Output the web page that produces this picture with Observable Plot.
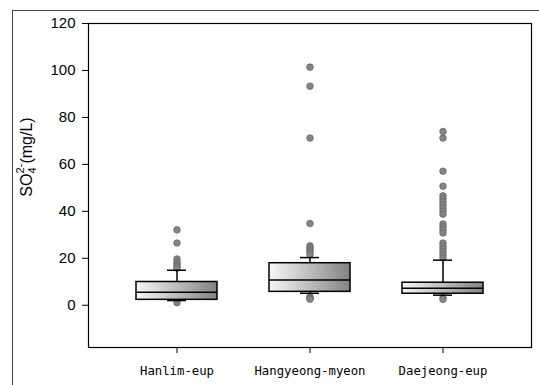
<!DOCTYPE html>
<html>
<head>
<meta charset="utf-8">
<script src="https://cdn.jsdelivr.net/npm/d3@7"></script>
<script src="https://cdn.jsdelivr.net/npm/@observablehq/plot@0.6"></script>
<style>
  body { margin: 0; background: #fff; }
  #wrap { position: relative; width: 539px; height: 385px; overflow: hidden; }
  #outer { position: absolute; left: 12px; top: 10px; width: 600px; height: 500px; border: 1px solid #444; box-sizing: border-box; }
  #wrap svg { position: absolute; left: 0; top: 0; }
</style>
</head>
<body>
<div id="wrap"><div id="outer"></div></div>
<script>
// Sulfate concentrations by sampling area: box statistics and outliers (mg/L)
const sites = ["Hanlim-eup", "Hangyeong-myeon", "Daejeong-eup"];
const q1 = [2.3, 5.7, 4.9];
const median = [5.5, 10.7, 7.2];
const q3 = [9.9, 17.9, 9.6];
const whiskerLow = [2.0, 5.1, 4.3];
const whiskerHigh = [14.9, 20.3, 19.2];

const outliersHanlim = [32.1, 26.5, 19.7, 18.4, 17.5, 16.6, 15.8, 1.1];
const outliersHangyeong = [101.4, 93.3, 71.2, 34.8, 25.3, 24.4, 23.5, 22.6, 21.5, 3.6, 3.0, 2.6];
const outliersDaejeong = [74.0, 71.2, 57.1, 50.7, 46.6, 45.3, 44.0, 42.7, 41.4, 40.1, 38.8,
  34.6, 33.4, 32.2, 30.8, 26.5, 25.2, 24.0, 22.7, 21.4, 20.2, 3.2, 2.5];

const yTicks = [0, 20, 40, 60, 80, 100, 120];

const outliers = [
  ...outliersHanlim.map(v => ({site: sites[0], value: v})),
  ...outliersHangyeong.map(v => ({site: sites[1], value: v})),
  ...outliersDaejeong.map(v => ({site: sites[2], value: v}))
];

// horizontal white-to-grey shading used inside each box
const gradientDefs = () => {
  const defs = d3.create("svg:defs");
  const g = defs.append("linearGradient").attr("id", "boxShade")
    .attr("x1", "0").attr("x2", "1").attr("y1", "0").attr("y2", "0");
  g.append("stop").attr("offset", "0%").attr("stop-color", "#f7f7f7");
  g.append("stop").attr("offset", "100%").attr("stop-color", "#828282");
  return defs.node();
};

const chart = Plot.plot({
  width: 539,
  height: 385,
  marginLeft: 88,
  marginRight: 8,
  marginTop: 23,
  marginBottom: 38,
  style: { background: "transparent", color: "#000" },
  x: { domain: sites, paddingInner: 0.388, paddingOuter: 0.347, label: null },
  y: { domain: [-18, 120], label: null },
  marks: [
    gradientDefs,
    Plot.frame({ stroke: "#000", strokeWidth: 1.2 }),
    Plot.axisY({ ticks: yTicks, tickSize: 6, tickPadding: 7, fontSize: 15,
                 fontFamily: "Liberation Sans, Arial, sans-serif", label: null, stroke: "#000" }),
    Plot.axisX({ tickSize: 6, tickPadding: 13, fontSize: 12.3,
                 fontFamily: "DejaVu Sans Mono, monospace", label: null, stroke: "#000" }),
    Plot.dot(outliers, { x: "site", y: "value", r: 3.3, fill: "#858585", stroke: "#5e5e5e", strokeWidth: 0.7 }),
    Plot.ruleX(sites, { x: d => d, y1: (d, i) => q3[i], y2: (d, i) => whiskerHigh[i], stroke: "#000", strokeWidth: 1.5 }),
    Plot.ruleX(sites, { x: d => d, y1: (d, i) => q1[i], y2: (d, i) => whiskerLow[i], stroke: "#000", strokeWidth: 1.5 }),
    Plot.tickY(sites, { x: d => d, y: (d, i) => whiskerHigh[i], insetLeft: 31, insetRight: 31, stroke: "#000", strokeWidth: 1.5 }),
    Plot.tickY(sites, { x: d => d, y: (d, i) => whiskerLow[i], insetLeft: 31, insetRight: 31, stroke: "#000", strokeWidth: 1.5 }),
    Plot.barY(sites, { x: d => d, y1: (d, i) => q1[i], y2: (d, i) => q3[i],
                       fill: "url(#boxShade)", stroke: "#000", strokeWidth: 1.5 }),
    Plot.tickY(sites, { x: d => d, y: (d, i) => median[i], stroke: "#000", strokeWidth: 1.5 })
  ]
});

// y-axis title with chemical sub/superscripts
const svg = d3.select(chart);
const title = svg.append("text")
  .attr("transform", "translate(32,157) rotate(-90)")
  .attr("text-anchor", "middle")
  .attr("font-family", "Liberation Sans, Arial, sans-serif")
  .attr("font-size", 16)
  .attr("fill", "#000");
title.append("tspan").text("SO");
title.append("tspan").attr("font-size", 11).attr("dy", 4).text("4");
title.append("tspan").attr("font-size", 11).attr("dy", -12).attr("dx", -6).text("2-");
title.append("tspan").attr("dy", 8).text("(mg/L)");

document.getElementById("wrap").appendChild(chart);
</script>
</body>
</html>
